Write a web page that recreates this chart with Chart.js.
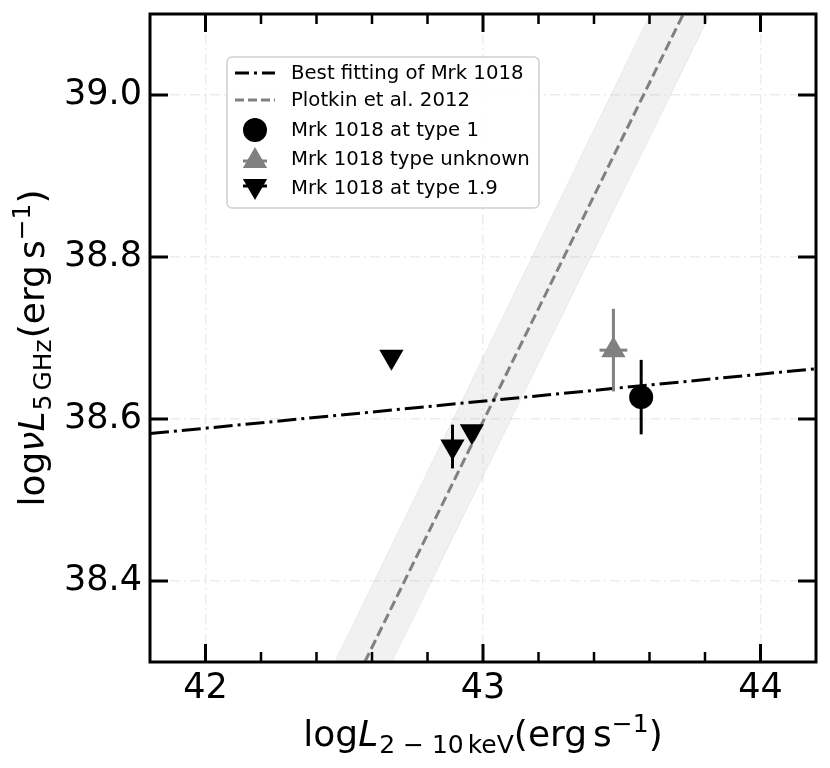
<!DOCTYPE html>
<html>
<head>
<meta charset="utf-8">
<script src="https://cdn.jsdelivr.net/npm/chart.js@4.4.1/dist/chart.umd.min.js"></script>
<style>
  html, body { margin: 0; padding: 0; background: #fff; }
  #wrap { width: 830px; height: 768px; }
</style>
</head>
<body>
<div id="wrap"><canvas id="fpChart"></canvas></div>
<script>
    // Axis ticks
    const xTicks = [42, 43, 44];
    const xMinorTicks = [42.2, 42.4, 42.6, 42.8, 43.2, 43.4, 43.6, 43.8];
    const yTicks = [38.4, 38.6, 38.8, 39.0];

    // Mrk 1018 points
    const type1X = [43.57];
    const type1Y = [38.627];
    const type1YErr = [0.046];

    const unknownX = [43.47];
    const unknownY = [38.685];
    const unknownXErr = [0.05];
    const unknownYErr = [0.051];

    const type19X = [42.67, 42.89, 42.96];
    const type19Y = [38.677, 38.566, 38.585];
    const type19YErr = [0, 0.027, 0];

    // Relations
    const bestFitX = [41.8, 44.2];
    const bestFitY = [38.582, 38.662];
    const plotkinX = [42.574, 43.722];
    const plotkinY = [38.3, 39.1];
    const bandX = [42.466, 43.603, 43.819, 42.671];
    const bandY = [38.3, 39.1, 39.1, 38.3];

    const FONT = "'DejaVu Sans', sans-serif";
    const GRAY = '#808080';

    const pts = (xs, ys) => xs.map((x, i) => ({ x: x, y: ys[i] }));

    // error bars as short line datasets
    function errBars(xs, ys, errs, dir, color) {
      const out = [];
      xs.forEach((x, i) => {
        const e = errs[i];
        if (!e) return;
        const data = dir === 'y'
          ? [{ x: x, y: ys[i] - e }, { x: x, y: ys[i] + e }]
          : [{ x: x - e, y: ys[i] }, { x: x + e, y: ys[i] }];
        out.push({
          type: 'line', label: '', data: data, showLine: true,
          borderColor: color, borderWidth: 3, pointRadius: 0, fill: false
        });
      });
      return out;
    }

    // draw text made of runs (for sub/superscripts)
    function drawRuns(ctx, runs, cx, cy, vertical) {
      ctx.save();
      let total = 0;
      runs.forEach(r => {
        ctx.font = r.font;
        r.w = ctx.measureText(r.t).width;
        total += r.w + (r.pad || 0);
      });
      ctx.translate(cx, cy);
      if (vertical) ctx.rotate(-Math.PI / 2);
      ctx.textBaseline = 'alphabetic';
      ctx.textAlign = 'left';
      ctx.fillStyle = '#000';
      let x = -total / 2;
      runs.forEach(r => {
        ctx.font = r.font;
        ctx.fillText(r.t, x, r.dy || 0);
        x += r.w + (r.pad || 0);
      });
      ctx.restore();
    }

    const big = `36px ${FONT}`;
    const bigIt = `italic 36px ${FONT}`;
    const small = `25px ${FONT}`;

    const xTitle = [
      { t: 'log', font: big },
      { t: 'L', font: bigIt, pad: 1 },
      { t: '2 \u2212 10', font: small, dy: 7, pad: 4 },
      { t: 'keV', font: small, dy: 7 },
      { t: '(erg', font: big, pad: 6 },
      { t: 's', font: big },
      { t: '\u22121', font: small, dy: -14 },
      { t: ')', font: big }
    ];
    const yTitle = [
      { t: 'log', font: big },
      { t: '\u03bd', font: bigIt },
      { t: 'L', font: bigIt, pad: 1 },
      { t: '5', font: small, dy: 7, pad: 4 },
      { t: 'GHz', font: small, dy: 7, pad: 1 },
      { t: '(erg', font: big, pad: 6 },
      { t: 's', font: big },
      { t: '\u22121', font: small, dy: -14 },
      { t: ')', font: big }
    ];

    function tri(ctx, x, y, r, down) {
      const s = down ? -1 : 1;
      ctx.beginPath();
      ctx.moveTo(x, y - s * r);
      ctx.lineTo(x + r * 0.866, y + s * r * 0.5);
      ctx.lineTo(x - r * 0.866, y + s * r * 0.5);
      ctx.closePath();
      ctx.fill();
    }

    // spines, inward ticks, legend and axis titles
    const framePlugin = {
      id: 'frame',
      afterDraw(chart) {
        const ctx = chart.ctx;
        const a = chart.chartArea;
        const xs = chart.scales.x, ys = chart.scales.y;
        ctx.save();
        ctx.strokeStyle = '#000';
        ctx.lineCap = 'butt';

        ctx.lineWidth = 3;
        ctx.beginPath();
        xTicks.forEach(v => {
          const p = xs.getPixelForValue(v);
          ctx.moveTo(p, a.bottom); ctx.lineTo(p, a.bottom - 18);
          ctx.moveTo(p, a.top); ctx.lineTo(p, a.top + 18);
        });
        yTicks.forEach(v => {
          const p = ys.getPixelForValue(v);
          ctx.moveTo(a.left, p); ctx.lineTo(a.left + 18, p);
          ctx.moveTo(a.right, p); ctx.lineTo(a.right - 18, p);
        });
        ctx.stroke();

        ctx.lineWidth = 2.5;
        ctx.beginPath();
        xMinorTicks.forEach(v => {
          const p = xs.getPixelForValue(v);
          ctx.moveTo(p, a.bottom); ctx.lineTo(p, a.bottom - 10);
          ctx.moveTo(p, a.top); ctx.lineTo(p, a.top + 10);
        });
        ctx.stroke();

        ctx.lineWidth = 3;
        ctx.strokeRect(a.left, a.top, a.right - a.left, a.bottom - a.top);

        // legend
        const lx = 227, ly = 57, lw = 312, lh = 151;
        ctx.beginPath();
        ctx.roundRect(lx, ly, lw, lh, 5);
        ctx.fillStyle = 'rgba(255,255,255,0.85)';
        ctx.fill();
        ctx.lineWidth = 1.5;
        ctx.strokeStyle = '#d0d0d0';
        ctx.stroke();

        const rows = [73, 100, 130, 159, 188];
        const hx = 255;
        ctx.lineWidth = 3;
        ctx.strokeStyle = '#000';
        ctx.setLineDash([14, 5, 3, 5]);
        ctx.beginPath(); ctx.moveTo(235, rows[0]); ctx.lineTo(275, rows[0]); ctx.stroke();
        ctx.strokeStyle = GRAY;
        ctx.lineWidth = 3;
        ctx.setLineDash([9, 4]);
        ctx.beginPath(); ctx.moveTo(235, rows[1]); ctx.lineTo(275, rows[1]); ctx.stroke();
        ctx.setLineDash([]);

        ctx.fillStyle = '#000';
        ctx.beginPath(); ctx.arc(hx, rows[2], 12, 0, Math.PI * 2); ctx.fill();
        ctx.fillStyle = GRAY;
        tri(ctx, hx, rows[3] + 2, 14, false);
        ctx.strokeStyle = GRAY; ctx.lineWidth = 3;
        ctx.beginPath(); ctx.moveTo(hx - 12, rows[3] + 2); ctx.lineTo(hx + 12, rows[3] + 2); ctx.stroke();
        ctx.fillStyle = '#000';
        tri(ctx, hx, rows[4] - 2, 14, true);
        ctx.strokeStyle = '#000';
        ctx.beginPath(); ctx.moveTo(hx - 12, rows[4] - 2); ctx.lineTo(hx + 12, rows[4] - 2); ctx.stroke();

        const labels = chart.data.datasets.filter(d => d.legendRow !== undefined)
          .sort((p, q) => p.legendRow - q.legendRow).map(d => d.label);
        ctx.fillStyle = '#000';
        ctx.font = `19.7px ${FONT}`;
        ctx.textBaseline = 'middle';
        ctx.textAlign = 'left';
        labels.forEach((t, i) => ctx.fillText(t, 291, rows[i] + 1));
        ctx.restore();

        drawRuns(ctx, xTitle, (a.left + a.right) / 2, 746, false);
        drawRuns(ctx, yTitle, 44, (a.top + a.bottom) / 2 + 10, true);
      }
    };

    const datasets = [
      {
        label: 'Mrk 1018 at type 1', legendRow: 2, data: pts(type1X, type1Y),
        pointStyle: 'circle', pointRadius: 12, backgroundColor: '#000', borderColor: '#000', borderWidth: 0
      },
      {
        label: 'Mrk 1018 type unknown', legendRow: 3, data: pts(unknownX, unknownY),
        pointStyle: 'triangle', pointRadius: 14, backgroundColor: GRAY, borderColor: GRAY, borderWidth: 0
      },
      {
        label: 'Mrk 1018 at type 1.9', legendRow: 4, data: pts(type19X, type19Y),
        pointStyle: 'triangle', pointRotation: 180, pointRadius: 14,
        backgroundColor: '#000', borderColor: '#000', borderWidth: 0
      },
      ...errBars(type1X, type1Y, type1YErr, 'y', '#000'),
      ...errBars(unknownX, unknownY, unknownYErr, 'y', GRAY),
      ...errBars(unknownX, unknownY, unknownXErr, 'x', GRAY),
      ...errBars(type19X, type19Y, type19YErr, 'y', '#000'),
      {
        type: 'line', label: 'Best fitting of Mrk 1018', legendRow: 0, data: pts(bestFitX, bestFitY),
        showLine: true, borderColor: '#000', borderWidth: 3, borderDash: [19, 5, 3, 5],
        pointRadius: 0, fill: false
      },
      {
        type: 'line', label: 'Plotkin et al. 2012', legendRow: 1, data: pts(plotkinX, plotkinY),
        showLine: true, borderColor: GRAY, borderWidth: 3, borderDash: [10, 4.5],
        pointRadius: 0, fill: false
      },
      {
        type: 'line', label: '', data: pts(bandX, bandY), showLine: true,
        borderColor: 'rgba(0,0,0,0.05)', borderWidth: 1,
        backgroundColor: 'rgba(128,128,128,0.11)', fill: 'shape', pointRadius: 0
      }
    ];

    new Chart(document.getElementById('fpChart').getContext('2d'), {
      type: 'scatter',
      data: { datasets: datasets },
      options: {
        responsive: true,
        maintainAspectRatio: false,
        animation: false,
        layout: { padding: { top: 14, right: 14, left: 0, bottom: 0 } },
        scales: {
          x: {
            type: 'linear', min: 41.8, max: 44.2,
            afterBuildTicks: s => { s.ticks = xTicks.map(v => ({ value: v })); },
            afterFit: s => { s.height = 106; s.paddingLeft = 0; s.paddingRight = 0; },
            ticks: { color: '#000', font: { family: FONT, size: 35 }, padding: 6, callback: v => String(v) },
            grid: { color: 'rgba(0,0,0,0.07)', lineWidth: 1.5, drawTicks: false },
            border: { display: false, dash: [10, 4, 2, 4] }
          },
          y: {
            type: 'linear', min: 38.3, max: 39.1,
            afterBuildTicks: s => { s.ticks = yTicks.map(v => ({ value: v })); },
            afterFit: s => { s.width = 150; s.paddingTop = 0; s.paddingBottom = 0; },
            ticks: { color: '#000', font: { family: FONT, size: 35 }, padding: 8, callback: v => v.toFixed(1) },
            grid: { color: 'rgba(0,0,0,0.07)', lineWidth: 1.5, drawTicks: false },
            border: { display: false, dash: [10, 4, 2, 4] }
          }
        },
        plugins: {
          legend: { display: false },
          tooltip: { enabled: false }
        }
      },
      plugins: [framePlugin]
    });
</script>
</body>
</html>
